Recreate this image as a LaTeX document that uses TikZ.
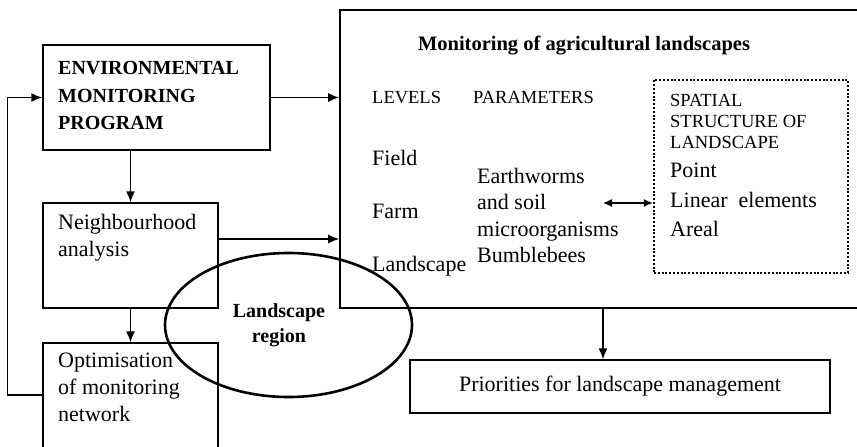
\documentclass[tikz,border=0pt]{standalone}
\usepackage{fontspec}
\setmainfont{Liberation Serif}
\usetikzlibrary{shapes}
\usetikzlibrary{arrows.meta}

\begin{document}
\begin{tikzpicture}[x=1pt, y=-1pt]

\tikzstyle{box}=[rectangle, draw=black, line width=1.4pt, inner sep=0pt]
\tikzstyle{txt}=[inner sep=0pt, anchor=north west, align=left, font=\fontsize{22}{27}\selectfont]
\tikzstyle{word}=[inner sep=0pt, anchor=base west, font=\fontsize{22}{27}\selectfont]
\tikzstyle{caps}=[inner sep=0pt, anchor=base west, font=\fontsize{18.5}{21}\selectfont]
\tikzstyle{connect}=[-{Latex[length=11pt,width=9pt]}, line width=1.4pt]
\tikzstyle{both}=[{Latex[length=9pt,width=8pt]}-{Latex[length=9pt,width=8pt]}, line width=1.4pt]

\useasboundingbox (0,0) rectangle (857,447);

% left column
\node[box, minimum width=227pt, minimum height=105pt] (emp) at (156.5,97.5) {};
\node[txt, font=\fontsize{20}{27.5}\selectfont\bfseries] (emptxt) at (58,61.5) {ENVIRONMENTAL\\MONITORING\\PROGRAM};

\node[box, minimum width=175pt, minimum height=105pt] (nbh) at (130.5,255.5) {};
\node[txt] (nbhtxt) at (58,214) {Neighbourhood\\analysis};

\node[box, minimum width=175pt, minimum height=130pt] (opt) at (130.5,408) {};
\node[txt] (opttxt) at (58,353) {Optimisation\\of monitoring\\network};

% monitoring box
\node[box, line width=1.6pt, minimum width=535pt, minimum height=298pt] (main) at (607.5,159) {};
\node[inner sep=0pt, anchor=base, font=\fontsize{20.5}{24}\selectfont\bfseries] (title) at (584,50) {Monitoring of agricultural landscapes};

\node[caps] (levels) at (372,103) {LEVELS};
\node[caps] (params) at (473,103) {PARAMETERS};

\node[word] (field) at (372,165) {Field};
\node[word] (farm) at (372,218) {Farm};
\node[word] (landscape) at (372,271) {Landscape};

\node[txt, font=\fontsize{22}{26.5}\selectfont] (species) at (477,168) {Earthworms\\and soil\\microorganisms\\Bumblebees};

\node[box, dash pattern=on 2pt off 1.8pt, line width=2.2pt, minimum width=194pt, minimum height=193pt] (spatial) at (751,176.5) {};
\node[txt, font=\fontsize{18.5}{21}\selectfont] (spatialtxt) at (670,94) {SPATIAL\\STRUCTURE OF\\LANDSCAPE};
\node[txt, font=\fontsize{22}{29.5}\selectfont] (elements) at (670,163) {Point\\Linear~~elements\\Areal};

\node[box, minimum width=420pt, minimum height=53pt, font=\fontsize{22}{27}\selectfont] (prio) at (620,386.5) {Priorities for landscape management};

% region
\node[ellipse, draw, line width=2.6pt, minimum width=247pt, minimum height=144pt, inner sep=0pt] (region) at (288.5,325) {};
\node[align=center, inner sep=0pt, font=\fontsize{20}{25}\selectfont\bfseries] (regiontxt) at (279,325) {Landscape\\region};


\coordinate (nbhout) at ([yshift=16.5pt]nbh.east);
\coordinate (optout) at ([yshift=13pt]opt.west);
\coordinate (mainout) at ([xshift=-4.5pt]main.south);
\coordinate (speciesout) at (603,203);

\draw[connect] (emp.east) -- (emp.east -| main.west);
\draw[connect] (emp.south -| nbh.north) -- (nbh.north);
\draw[connect] (nbhout) -- (nbhout -| main.west);
\path (nbh) [connect] edge (opt);
\draw[connect] (optout) -- ++(-35,0) |- (emp.west);
\draw[connect] (mainout) -- (mainout |- prio.north);
\draw[both] (speciesout) -- (speciesout -| spatial.west);

\end{tikzpicture}
\end{document}
